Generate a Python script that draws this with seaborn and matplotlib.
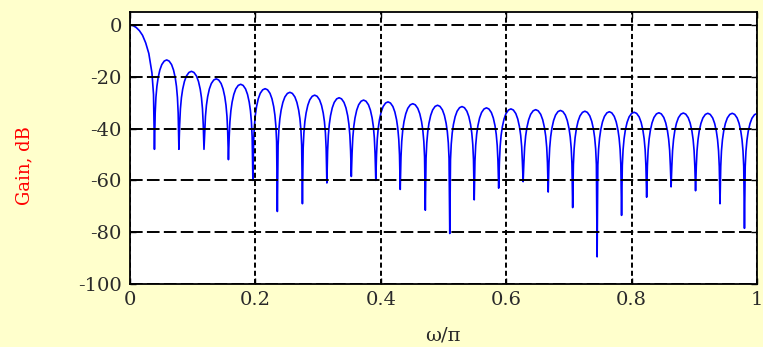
import numpy as np
import pandas as pd
import matplotlib
matplotlib.use("Agg")
import matplotlib.pyplot as plt
import seaborn as sns

# ---- data ----
# main lobe (x in units of omega/pi, gain in dB)
mainlobe_x = [0.0, 0.005, 0.01, 0.015, 0.02, 0.025, 0.03, 0.035, 0.0375]
mainlobe_db = [0.0, -0.25, -1.0, -2.2, -4.0, -6.9, -11.0, -18.5, -26.8]

# null positions and depths
null_x = [0.039, 0.078, 0.118, 0.157, 0.196, 0.235, 0.275, 0.314, 0.353, 0.392,
          0.431, 0.471, 0.510, 0.549, 0.588, 0.627, 0.667, 0.706, 0.745, 0.784,
          0.824, 0.863, 0.902, 0.941, 0.980]
null_db = [-48, -48, -48, -52, -60, -72, -69, -61, -58.5, -60,
           -63.5, -71.5, -80.5, -67.5, -63, -60.5, -64.5, -70.5, -89.5, -73.5,
           -66.5, -62.5, -64, -69, -78.5]

# side-lobe peak levels between consecutive nulls
peak_db = [-13.5, -17.9, -20.8, -22.9, -24.6, -26.0, -27.1, -28.1, -29.0, -29.7,
           -30.4, -31.0, -31.5, -32.0, -32.4, -32.7, -33.0, -33.3, -33.5, -33.7,
           -33.9, -34.0, -34.1, -34.1]
end_x = 1.0
end_db = -34.2

# shape of one side lobe: fraction of the lobe width and level below its peak
lobe_frac = [0.03, 0.06, 0.10, 0.15, 0.22, 0.30, 0.40, 0.50,
             0.60, 0.70, 0.78, 0.85, 0.90, 0.94, 0.97]
lobe_rel_db = [-20.5, -14.5, -10.2, -6.9, -3.9, -1.8, -0.44, 0.0,
               -0.44, -1.8, -3.9, -6.9, -10.2, -14.5, -20.5]

xticks = [0, 0.2, 0.4, 0.6, 0.8, 1.0]
xtick_labels = ["0", "0.2", "0.4", "0.6", "0.8", "1"]
yticks = [0, -20, -40, -60, -80, -100]
ytick_labels = ["0", "-20", "-40", "-60", "-80", "-100"]

# ---- assemble the curve from the read values ----
xs = list(mainlobe_x)
ys = list(mainlobe_db)
for i in range(len(null_x)):
    xs.append(null_x[i]); ys.append(null_db[i])
    if i < len(peak_db):
        w = null_x[i + 1] - null_x[i]
        for f, r in zip(lobe_frac, lobe_rel_db):
            xs.append(null_x[i] + f * w); ys.append(peak_db[i] + r)
# last half lobe up to omega = pi
w = 2 * (end_x - null_x[-1])
for f, r in zip(lobe_frac, lobe_rel_db):
    if f >= 0.5:
        break
    xs.append(null_x[-1] + f * w); ys.append(end_db + r)
xs.append(end_x); ys.append(end_db)

df = pd.DataFrame({"w": xs, "gain": ys})

# ---- figure ----
sns.set_theme(style="white")
plt.rcParams["font.family"] = ["DejaVu Serif", "DejaVu Sans"]

bg = "#FFFFCC"
fig = plt.figure(figsize=(7.63, 3.47), dpi=100, facecolor=bg)
ax = fig.add_axes([130 / 763, 1 - 284 / 347, 627 / 763, 272 / 347])
ax.set_facecolor("white")

sns.lineplot(data=df, x="w", y="gain", sort=False, estimator=None,
             color="#0000FF", linewidth=1.2, ax=ax)

ax.set_xlim(0, 1)
ax.set_ylim(-100, 5)
ax.set_xticks(xticks)
ax.set_xticklabels(xtick_labels)
ax.set_yticks(yticks)
ax.set_yticklabels(ytick_labels)

ax.set_axisbelow(False)
ax.xaxis.grid(True, color="black", linewidth=1.4, linestyle=(0, (2.6, 1.6)))
ax.yaxis.grid(True, color="black", linewidth=1.4, linestyle=(0, (6.5, 2.2)))

for s in ax.spines.values():
    s.set_visible(True)
    s.set_color("black")
    s.set_linewidth(1.3)

ax.tick_params(direction="in", length=4, width=1.0, color="black",
               top=True, right=True, bottom=True, left=True,
               labelsize=14, labelcolor="#2a2a2a")
ax.tick_params(axis="x", pad=5)
ax.tick_params(axis="y", pad=6)

ax.set_xlabel("")
ax.set_ylabel("")
fig.text(443 / 763, 1 - 336 / 347, "ω/π", ha="center", va="center",
         fontsize=14, color="#2a2a2a")
fig.text(24 / 763, 1 - 166 / 347, "Gain, dB", ha="center", va="center",
         rotation=90, fontsize=13, color="#FF0000")

fig.savefig("out.png", dpi=100, facecolor=bg)
